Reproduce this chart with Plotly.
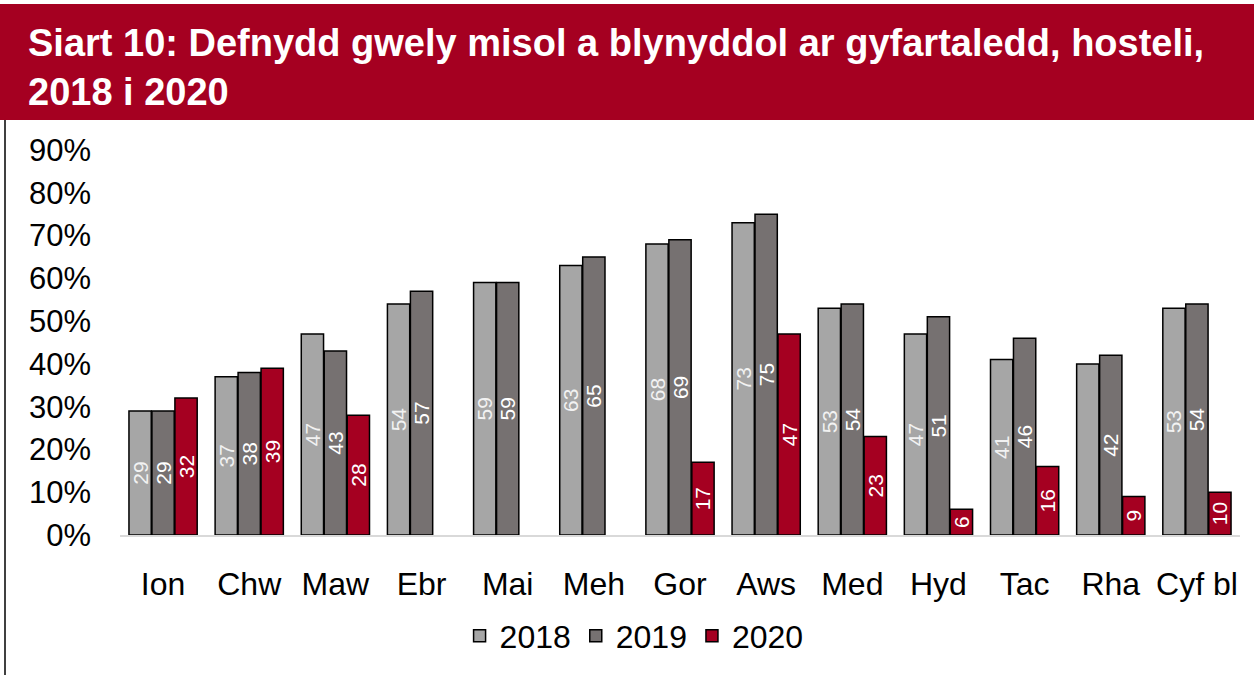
import plotly.graph_objects as go

months = ["Ion", "Chw", "Maw", "Ebr", "Mai", "Meh", "Gor", "Aws", "Med", "Hyd", "Tac", "Rha", "Cyf bl"]
occ_2018 = [29, 37, 47, 54, 59, 63, 68, 73, 53, 47, 41, 40, 53]
occ_2019 = [29, 38, 43, 57, 59, 65, 69, 75, 54, 51, 46, 42, 54]
occ_2020 = [32, 39, 28, None, None, None, 17, 47, 23, 6, 16, 9, 10]
# the source chart leaves the Rha 2018 bar unlabelled
labels_2018 = ["29", "37", "47", "54", "59", "63", "68", "73", "53", "47", "41", "", "53"]
labels_2019 = [str(v) for v in occ_2019]
labels_2020 = [str(v) if v is not None else "" for v in occ_2020]

W, H = 1254, 675
L, R, T, B = 120, 14, 150, 140
pw, ph = W - L - R, H - T - B

series = [
    ("2018", occ_2018, labels_2018, "#A6A6A6", "#F2F2F2"),
    ("2019", occ_2019, labels_2019, "#767171", "#FFFFFF"),
    ("2020", occ_2020, labels_2020, "#A50021", "#FFFFFF"),
]

fig = go.Figure()
for name, vals, labs, col, tcol in series:
    fig.add_trace(go.Bar(
        x=months,
        y=[v / 100 if v is not None else None for v in vals],
        name=name,
        text=labs,
        textposition="inside",
        insidetextanchor="middle",
        textangle=-90,
        constraintext="none",
        textfont=dict(family="Liberation Sans, Arial", size=21, color=tcol),
        marker=dict(color=col, line=dict(color="#000000", width=1.5)),
        hoverinfo="x+y+name",
    ))


def px_x(p):
    return (p - L) / pw


def px_y(p):
    return (T + ph - p) / ph


fig.update_layout(
    width=W, height=H,
    margin=dict(l=L, r=R, t=T, b=B),
    paper_bgcolor="white", plot_bgcolor="white",
    barmode="group", bargap=0.2, bargroupgap=0.03,
    font=dict(family="Liberation Sans, Arial", color="#000000"),
    showlegend=True,
    legend=dict(orientation="h", x=0.459, xanchor="center", y=px_y(636), yanchor="middle",
                font=dict(size=32), itemwidth=30, traceorder="normal"),
    xaxis=dict(showgrid=False, showline=True, linecolor="#D9D9D9", linewidth=1.5,
               ticks="", tickfont=dict(size=32), ticklabelstandoff=20),
    yaxis=dict(range=[0, 0.9], dtick=0.1, tickformat=".0%", showgrid=False,
               showline=False, zeroline=False, ticks="", tickfont=dict(size=31),
               ticklabelstandoff=28),
    shapes=[
        dict(type="rect", xref="paper", yref="paper",
             x0=px_x(0), x1=px_x(W), y0=px_y(120), y1=px_y(4),
             fillcolor="#A50021", line=dict(width=0), layer="below"),
        dict(type="line", xref="paper", yref="paper",
             x0=px_x(5), x1=px_x(5), y0=px_y(120), y1=px_y(H),
             line=dict(color="#000000", width=1.5)),
    ],
    annotations=[
        dict(xref="paper", yref="paper", x=px_x(26), y=px_y(68), xanchor="left", yanchor="middle",
             align="left", showarrow=False,
             text="<b>Siart 10: Defnydd gwely misol a blynyddol ar gyfartaledd, hosteli,<br>2018 i 2020</b>",
             font=dict(family="Liberation Sans, Arial", size=38, color="white")),
    ],
)

fig.write_html("out.html", config={"displayModeBar": False},
               post_script="document.body.style.margin='0';")
